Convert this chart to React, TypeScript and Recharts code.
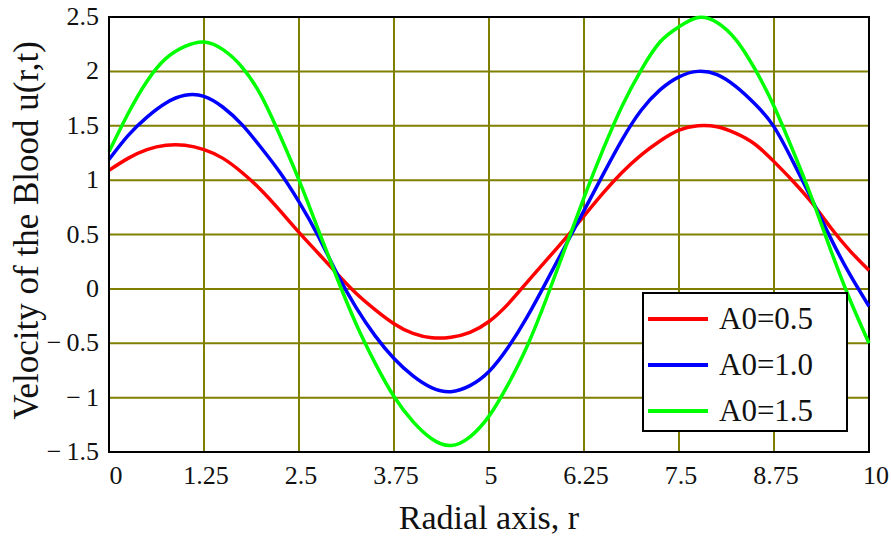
import { LineChart, Line, XAxis, YAxis, CartesianGrid, Legend, ReferenceArea, Label } from 'recharts'

// radial positions r, step 0.25
const rValues = [
  0, 0.25, 0.5, 0.75, 1, 1.25, 1.5, 1.75, 2, 2.25, 2.5, 2.75, 3, 3.25, 3.5, 3.75, 4, 4.25, 4.5, 4.75,
  5, 5.25, 5.5, 5.75, 6, 6.25, 6.5, 6.75, 7, 7.25, 7.5, 7.75, 8, 8.25, 8.5, 8.75, 9, 9.25, 9.5, 9.75, 10,
]

// A0 = 0.5
const uA05 = [
  1.09, 1.2, 1.28, 1.32, 1.32, 1.28, 1.2, 1.07, 0.91, 0.72, 0.52, 0.33, 0.14, -0.04, -0.19, -0.32, -0.41, -0.45, -0.445, -0.4,
  -0.3, -0.14, 0.06, 0.26, 0.46, 0.67, 0.88, 1.07, 1.23, 1.36, 1.46, 1.5, 1.49, 1.43, 1.33, 1.17, 0.99, 0.79, 0.56, 0.35, 0.17,
]

// A0 = 1.0
const uA10 = [
  1.19, 1.41, 1.58, 1.71, 1.78, 1.77, 1.67, 1.51, 1.3, 1.07, 0.8, 0.49, 0.14, -0.17, -0.43, -0.64, -0.8, -0.91, -0.945, -0.89,
  -0.76, -0.54, -0.26, 0.06, 0.39, 0.72, 1.05, 1.37, 1.64, 1.83, 1.95, 2.0, 1.97, 1.86, 1.7, 1.49, 1.17, 0.82, 0.46, 0.13, -0.16,
]

// A0 = 1.5
const uA15 = [
  1.26, 1.61, 1.91, 2.12, 2.23, 2.27, 2.2, 2.04, 1.78, 1.41, 1.0, 0.55, 0.1, -0.32, -0.68, -0.99, -1.22, -1.38, -1.44, -1.36,
  -1.17, -0.88, -0.53, -0.1, 0.37, 0.84, 1.28, 1.68, 2.01, 2.27, 2.41, 2.495, 2.45, 2.29, 2.02, 1.68, 1.27, 0.83, 0.35, -0.1, -0.5,
]

const xTicks = [0, 1.25, 2.5, 3.75, 5, 6.25, 7.5, 8.75, 10]
const yTicks = [-1.5, -1, -0.5, 0, 0.5, 1, 1.5, 2, 2.5]

const seriesNames = ['A0=0.5', 'A0=1.0', 'A0=1.5']
const seriesColors = ['#ff0000', '#0000ff', '#00ff00']

const data = rValues.map((r, i) => ({ r, a05: uA05[i], a10: uA10[i], a15: uA15[i] }))

const FONT = '"Liberation Serif", "Times New Roman", serif'

function XTick(props: any) {
  const { x, y, payload } = props
  const v = payload.value
  const dx = v === 0 || v === 10 ? 7 : 2
  return (
    <text x={x + dx} y={y + 24} textAnchor="middle" fontFamily={FONT} fontSize={26} fill="#111">
      {String(v)}
    </text>
  )
}

function YTick(props: any) {
  const { x, y, payload } = props
  const v = payload.value
  const label = v < 0 ? '\u2212\u2009' + String(Math.abs(v)) : String(v)
  return (
    <text x={x - 2} y={y + 8} textAnchor="end" fontFamily={FONT} fontSize={26} fill="#111">
      {label}
    </text>
  )
}

function LegendBox() {
  return (
    <div
      style={{
        width: 206,
        height: 140,
        boxSizing: 'border-box',
        border: '2px solid #000',
        background: '#fff',
        fontFamily: FONT,
        fontSize: 31,
        color: '#111',
        paddingTop: 2,
      }}
    >
      {seriesNames.map((name, i) => (
        <div key={name} style={{ display: 'flex', alignItems: 'center', height: 46 }}>
          <div style={{ width: 60, height: 4, background: seriesColors[i], marginLeft: 4, marginRight: 11 }} />
          <span style={{ lineHeight: '46px' }}>{name}</span>
        </div>
      ))}
    </div>
  )
}

export default function App() {
  return (
    <div style={{ position: 'absolute', left: 0, top: 0, width: 891, height: 541, background: '#fff' }}>
      <LineChart width={891} height={541} data={data} margin={{ top: 17, right: 22, bottom: 0, left: 0 }}>
        <CartesianGrid stroke="#808000" strokeWidth={2} horizontalValues={yTicks} verticalValues={xTicks} />
        <XAxis
          type="number"
          dataKey="r"
          domain={[0, 10]}
          ticks={xTicks}
          height={89}
          tickLine={false}
          axisLine={{ stroke: '#000', strokeWidth: 2 }}
          tick={<XTick />}
          interval={0}
        >
          <Label
            value="Radial axis, r"
            position="insideBottom"
            offset={12}
            style={{ fontFamily: FONT, fontSize: 34, fill: '#111' }}
          />
        </XAxis>
        <YAxis
          type="number"
          domain={[-1.5, 2.5]}
          ticks={yTicks}
          width={109}
          tickLine={false}
          axisLine={{ stroke: '#000', strokeWidth: 2 }}
          tick={<YTick />}
          interval={0}
        >
          <Label
            value="Velocity of the Blood u(r,t)"
            angle={-90}
            position="insideLeft"
            offset={0}
            dx={26}
            dy={-4}
            style={{ fontFamily: FONT, fontSize: 35, fill: '#111', textAnchor: 'middle' }}
          />
        </YAxis>
        <ReferenceArea x1={0} x2={10} y1={-1.5} y2={2.5} fill="none" stroke="#000" strokeWidth={2} />
        <Line type="natural" dataKey="a05" name={seriesNames[0]} stroke={seriesColors[0]} strokeWidth={3.5} dot={false} isAnimationActive={false} />
        <Line type="natural" dataKey="a10" name={seriesNames[1]} stroke={seriesColors[1]} strokeWidth={3.5} dot={false} isAnimationActive={false} />
        <Line type="natural" dataKey="a15" name={seriesNames[2]} stroke={seriesColors[2]} strokeWidth={3.5} dot={false} isAnimationActive={false} />
        <Legend
          layout="vertical"
          align="center"
          verticalAlign="middle"
          content={<LegendBox />}
          wrapperStyle={{ left: 642, top: 292, width: 206, height: 140 }}
        />
      </LineChart>
    </div>
  )
}
